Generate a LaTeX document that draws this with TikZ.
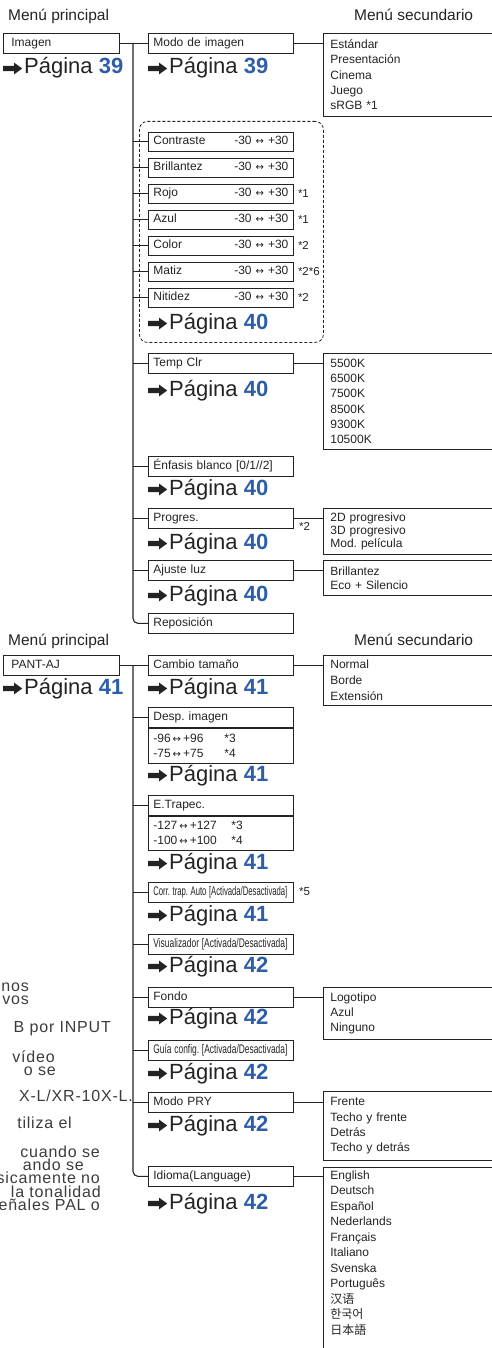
\documentclass[tikz,border=0pt]{standalone}
\usepackage{fontspec}
\usepackage{graphicx}
\setmainfont{Liberation Sans}
\newfontfamily\fragfont[LetterSpace=5]{Liberation Sans}
\newfontfamily\dejavu{DejaVu Sans}
\newfontfamily\cjk{Noto Sans CJK SC}
\usepackage{tikz}
\usetikzlibrary{positioning}
\frenchspacing

\definecolor{linegray}{RGB}{35,35,35}
\definecolor{pgblue}{RGB}{44,94,170}
\definecolor{notegray}{RGB}{60,60,60}

\newcommand{\flecha}{\tikz[x=1pt,y=1pt,baseline=-5.5pt]\fill[linegray] (0,-2.6) -- (11,-2.6) -- (11,-5.8) -- (19,0) -- (11,5.8) -- (11,2.6) -- (0,2.6) -- cycle;}
\newcommand{\pagina}[1]{\flecha\hspace{2pt}Página \textbf{\color{pgblue}#1}}
\newcommand{\dobleflecha}{{\dejavu\fontsize{10}{12}\selectfont ↔}}
\newcommand{\estrecho}[1]{\resizebox{134pt}{\height}{#1}}

\begin{document}
\begin{tikzpicture}[
    x=1pt, y=-1pt,
    wire/.style={draw=linegray, line width=1.1pt},
    mainbox/.style={draw=linegray, line width=0.8pt, anchor=north west, minimum height=20pt, text width=100pt, inner xsep=8pt, inner ysep=2pt, text height=9pt, text depth=3pt, align=left, font=\fontsize{12}{14}\selectfont, text=linegray},
    subbox/.style={mainbox, text width=135pt, inner xsep=5pt},
    narrowbox/.style={subbox, font=\fontsize{12.5}{14}\selectfont},
    valbox/.style={subbox, minimum height=19pt},
    valsbox/.style={draw=linegray, line width=0.8pt, anchor=north west, text width=135pt, inner xsep=5pt, align=left, font=\fontsize{12}{15}\selectfont, text=linegray},
    secbox/.style={draw=linegray, line width=0.8pt, anchor=north west, text width=165pt, inner xsep=7pt, align=left, font=\fontsize{12}{15.3}\selectfont, text=linegray},
    pgref/.style={anchor=base west, inner sep=0pt, font=\fontsize{22}{24}\selectfont, text=linegray},
    head/.style={anchor=base west, inner sep=0pt, font=\fontsize{15.5}{18}\selectfont, text=linegray},
    note/.style={anchor=west, inner sep=0pt, font=\fontsize{11.5}{13}\selectfont, text=linegray},
    frag/.style={anchor=base east, inner sep=0pt, font=\fragfont\fontsize{16}{18}\selectfont, text=notegray},
    grupo/.style={draw=linegray, line width=0.8pt, dash pattern=on 3pt off 2pt, rounded corners=8pt, anchor=north west}
  ]
  \useasboundingbox (0,0) rectangle (492,1348);
  \clip (0,0) rectangle (492,1348);

  % Imagen
  \node[head] (princa) at (8,21) {Menú principal};
  \node[head] (secua) at (354,21) {Menú secundario};
  \node[mainbox] (imagen) at (3,33) {Imagen};
  \node[pgref] (pgimagen) at (3,74) {\pagina{39}};

  \node[subbox] (modo) at (148,33) {Modo de imagen};
  \node[pgref] (pgmodo) at (148,74) {\pagina{39}};
  \node[secbox, minimum height=83pt] (modos) at (323,33) {Estándar\\Presentación\\Cinema\\Juego\\sRGB *1};

  \node[grupo, minimum width=184pt, minimum height=221pt] (ajustes) at (139,121) {};
  \node[valbox] (contraste) at (148,132) {Contraste\hfill -30 \dobleflecha\ +30};
  \node[valbox] (brillo) at (148,158) {Brillantez\hfill -30 \dobleflecha\ +30};
  \node[valbox] (rojo) at (148,184) {Rojo\hfill -30 \dobleflecha\ +30};
  \node[valbox] (azul) at (148,210) {Azul\hfill -30 \dobleflecha\ +30};
  \node[valbox] (color) at (148,236) {Color\hfill -30 \dobleflecha\ +30};
  \node[valbox] (matiz) at (148,262) {Matiz\hfill -30 \dobleflecha\ +30};
  \node[valbox] (nitidez) at (148,288) {Nitidez\hfill -30 \dobleflecha\ +30};
  \node[note, right=4pt of rojo] (nrojo) {*1};
  \node[note, right=4pt of azul] (nazul) {*1};
  \node[note, right=4pt of color] (ncolor) {*2};
  \node[note, right=4pt of matiz] (nmatiz) {*2*6};
  \node[note, right=4pt of nitidez] (nnitidez) {*2};
  \node[pgref] (pgajustes) at (148,329) {\pagina{40}};

  \node[subbox] (temp) at (148,353) {Temp Clr};
  \node[pgref] (pgtemp) at (148,396) {\pagina{40}};
  \node[secbox, minimum height=96pt] (temps) at (323,353) {5500K\\6500K\\7500K\\8500K\\9300K\\10500K};

  \node[subbox] (enfasis) at (148,456) {Énfasis blanco [0/1//2]};
  \node[pgref] (pgenfasis) at (148,495) {\pagina{40}};

  \node[subbox] (progres) at (148,508) {Progres.};
  \node[note] (nprogres) at (299,526) {*2};
  \node[pgref] (pgprogres) at (148,549) {\pagina{40}};
  \node[secbox, minimum height=46pt, font=\fontsize{12}{12.7}\selectfont] (progress) at (323,508) {2D progresivo\\3D progresivo\\Mod. película};

  \node[subbox] (luz) at (148,560) {Ajuste luz};
  \node[pgref] (pgluz) at (148,601) {\pagina{40}};
  \node[secbox, minimum height=35pt, font=\fontsize{12}{14}\selectfont] (luzs) at (323,560) {Brillantez\\Eco + Silencio};

  \node[subbox] (repos) at (148,613) {Reposición};

  \coordinate (troncoa) at (133,43);
  \draw[wire] (imagen.east) -- (modo.west);
  \draw[wire, rounded corners=5pt] (troncoa) |- (repos.west);
  \draw[wire] (troncoa |- contraste.west) -- (contraste.west);
  \draw[wire] (troncoa |- brillo.west) -- (brillo.west);
  \draw[wire] (troncoa |- rojo.west) -- (rojo.west);
  \draw[wire] (troncoa |- azul.west) -- (azul.west);
  \draw[wire] (troncoa |- color.west) -- (color.west);
  \draw[wire] (troncoa |- matiz.west) -- (matiz.west);
  \draw[wire] (troncoa |- nitidez.west) -- (nitidez.west);
  \draw[wire] (troncoa |- temp.west) -- (temp.west);
  \draw[wire] (troncoa |- enfasis.west) -- (enfasis.west);
  \draw[wire] (troncoa |- progres.west) -- (progres.west);
  \draw[wire] (troncoa |- luz.west) -- (luz.west);
  \draw[wire] (modo.east) -- (modos.west |- modo.east);
  \draw[wire] (temp.east) -- (temps.west |- temp.east);
  \draw[wire] (progres.east) -- (progress.west |- progres.east);
  \draw[wire] (luz.east) -- (luzs.west |- luz.east);

  % PANT-AJ
  \node[head] (princb) at (8,645) {Menú principal};
  \node[head] (secub) at (354,645) {Menú secundario};
  \node[mainbox] (pant) at (3,655) {PANT-AJ};
  \node[pgref] (pgpant) at (3,694) {\pagina{41}};

  \node[subbox] (cambio) at (148,655) {Cambio tamaño};
  \node[pgref] (pgcambio) at (148,694) {\pagina{41}};
  \node[secbox, minimum height=50pt, font=\fontsize{12}{16}\selectfont] (cambios) at (323,655) {Normal\\Borde\\Extensión};

  \node[subbox] (desp) at (148,707) {Desp. imagen};
  \node[valsbox, minimum height=35pt] (despval) at (desp.south west) {\makebox[71pt][l]{-96\,\dobleflecha\,+96}*3\\\makebox[71pt][l]{-75\,\dobleflecha\,+75}*4};
  \node[pgref] (pgdesp) at (148,781) {\pagina{41}};

  \node[subbox] (trapec) at (148,795) {E.Trapec.};
  \node[valsbox, minimum height=34pt] (trapecval) at (trapec.south west) {\makebox[78pt][l]{-127\,\dobleflecha\,+127}*3\\\makebox[78pt][l]{-100\,\dobleflecha\,+100}*4};
  \node[pgref] (pgtrapec) at (148,869) {\pagina{41}};

  \node[narrowbox] (corr) at (148,882) {\estrecho{Corr. trap. Auto [Activada/Desactivada]}};
  \node[note] (ncorr) at (299,892) {*5};
  \node[pgref] (pgcorr) at (148,921) {\pagina{41}};

  \node[narrowbox] (visual) at (148,934) {\estrecho{Visualizador [Activada/Desactivada]}};
  \node[pgref] (pgvisual) at (148,972) {\pagina{42}};

  \node[subbox] (fondo) at (148,987) {Fondo};
  \node[pgref] (pgfondo) at (148,1024) {\pagina{42}};
  \node[secbox, minimum height=52pt] (fondos) at (323,987) {Logotipo\\Azul\\Ninguno};

  \node[narrowbox] (guia) at (148,1040) {\estrecho{Guía config. [Activada/Desactivada]}};
  \node[pgref] (pgguia) at (148,1079) {\pagina{42}};

  \node[subbox] (pry) at (148,1092) {Modo PRY};
  \node[pgref] (pgpry) at (148,1131) {\pagina{42}};
  \node[secbox, minimum height=69pt] (prys) at (323,1091) {Frente\\Techo y frente\\Detrás\\Techo y detrás};

  \node[subbox] (idioma) at (148,1166) {Idioma(Language)};
  \node[pgref] (pgidioma) at (148,1209) {\pagina{42}};
  \node[secbox, minimum height=200pt] (idiomas) at (323,1167) {};
  \node[secbox, draw=none, font=\fontsize{12}{15.5}\selectfont, inner ysep=3pt] (idiomalista) at (idiomas.north west) {English\\Deutsch\\Español\\Nederlands\\Français\\Italiano\\Svenska\\Português\\{\cjk 汉语}\\{\cjk 한국어}\\{\cjk 日本語}};

  \coordinate (troncob) at (133,665);
  \draw[wire] (pant.east) -- (cambio.west);
  \draw[wire, rounded corners=5pt] (troncob) |- (idioma.west);
  \draw[wire] (troncob |- desp.west) -- (desp.west);
  \draw[wire] (troncob |- trapec.west) -- (trapec.west);
  \draw[wire] (troncob |- corr.west) -- (corr.west);
  \draw[wire] (troncob |- visual.west) -- (visual.west);
  \draw[wire] (troncob |- fondo.west) -- (fondo.west);
  \draw[wire] (troncob |- guia.west) -- (guia.west);
  \draw[wire] (troncob |- pry.west) -- (pry.west);
  \draw[wire] (cambio.east) -- (cambios.west |- cambio.east);
  \draw[wire] (fondo.east) -- (fondos.west |- fondo.east);
  \draw[wire] (pry.east) -- (prys.west |- pry.east);
  \draw[wire] (idioma.east) -- (idiomas.west |- idioma.east);

  % texto cortado a la izquierda
  \node[frag] (fa) at (29,991) {nos};
  \node[frag] (fb) at (29,1004) {vos};
  \node[frag] (fc) at (111,1032) {B por INPUT};
  \node[frag] (fd) at (55,1062) {vídeo};
  \node[frag] (fe) at (56,1075) {o se};
  \node[frag] (ff) at (133,1101) {X-L/XR-10X-L.};
  \node[frag] (fg) at (72,1128) {tiliza el};
  \node[frag] (fh) at (100,1157) {cuando se};
  \node[frag] (fi) at (84,1170) {ando se};
  \node[frag] (fj) at (100,1183) {sicamente no};
  \node[frag] (fk) at (101,1197) {la tonalidad};
  \node[frag] (fl) at (100,1210) {eñales PAL o};
\end{tikzpicture}
\end{document}
